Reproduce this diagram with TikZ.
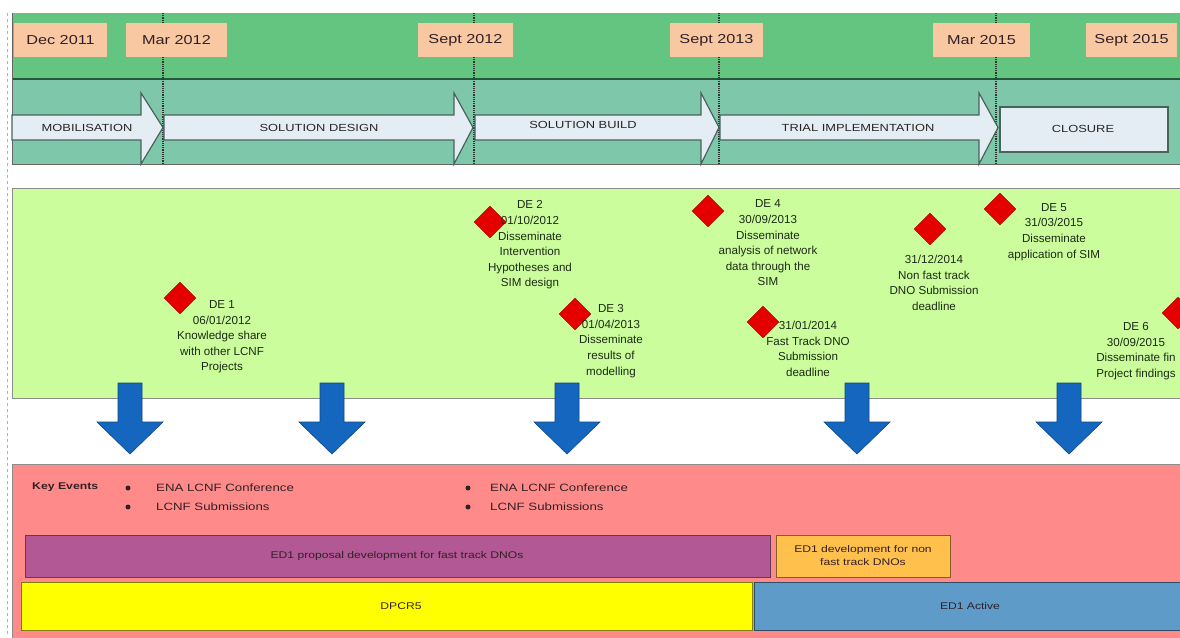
\documentclass[tikz,border=0pt]{standalone}
\usepackage{fontspec}
\setmainfont{Liberation Sans}
\newfontfamily\widefont{Liberation Sans}[FakeStretch=1.25]
\usetikzlibrary{shapes.geometric}
\definecolor{topgreen}{RGB}{100,197,128}
\definecolor{tealband}{RGB}{126,199,170}
\definecolor{darkline}{RGB}{40,85,60}
\definecolor{peach}{RGB}{248,200,162}
\definecolor{arrowfill}{RGB}{228,236,244}
\definecolor{arrowedge}{RGB}{70,100,90}
\definecolor{panelgreen}{RGB}{204,253,156}
\definecolor{panelpink}{RGB}{255,138,138}
\definecolor{barpurple}{RGB}{178,88,148}
\definecolor{barorange}{RGB}{255,192,76}
\definecolor{baryellow}{RGB}{255,255,0}
\definecolor{barblue}{RGB}{94,155,200}
\definecolor{arrowblue}{RGB}{20,102,190}
\definecolor{diamondred}{RGB}{228,0,0}
\definecolor{greentext}{RGB}{28,42,22}
\definecolor{darktext}{RGB}{50,32,38}
\tikzset{
  datebox/.style={fill=peach, draw=none, minimum height=34pt, inner sep=0pt,
    font=\widefont\fontsize{13}{15}\selectfont, text=darktext},
  phasearrow/.style={fill=arrowfill, draw=arrowedge, line width=1.2pt},
  phasetext/.style={font=\widefont\fontsize{10.3}{12}\selectfont, text=black!85},
  milestone/.style={diamond, fill=diamondred, draw=diamondred!70!black, line width=0.4pt,
    minimum width=32pt, minimum height=32pt, inner sep=0pt},
  mstext/.style={align=center, font=\fontsize{11.6}{15.6}\selectfont, text=greentext, inner sep=0pt},
  downarrow/.style={fill=arrowblue, draw=arrowblue!70!black, line width=0.6pt},
  bartext/.style={font=\widefont\fontsize{9.7}{13}\selectfont, text=darktext, align=center},
  keytext/.style={font=\widefont\fontsize{10.6}{17}\selectfont, text=darktext, anchor=west, inner sep=0pt},
  keybullet/.style={circle, fill=darktext, draw=none, inner sep=0pt, minimum size=5pt},
  milestoneline/.style={densely dotted, line width=1.2pt, draw=black!80},
}
\begin{document}
\begin{tikzpicture}[x=1pt,y=-1pt]
\useasboundingbox (0,0) rectangle (1180,637);
\clip (0,0) rectangle (1180,637);
\fill[white] (0,0) rectangle (1180,637);
% left edge line
\draw[gray!60, dashed, line width=0.8pt] (7,13) -- (7,637);
% top bands
\fill[topgreen] (12,13) rectangle (1185,79);
\fill[tealband] (12,79) rectangle (1185,164);
\draw[darkline, line width=2pt] (12,79) -- (1185,79);
\draw[black!60, line width=1pt] (12,13) -- (12,164) -- (1185,164);
% milestone lines
\foreach \x in {163,474,719,996} \draw[milestoneline] (\x,13) -- (\x,164);
% date labels
\node[datebox, minimum width=93pt] (d1) at (60.5,40) {Dec 2011};
\node[datebox, minimum width=101pt] (d2) at (176.5,40) {Mar 2012};
\node[datebox, minimum width=95pt] (d3) at (465.5,40) {Sept 2012};
\node[datebox, minimum width=93pt] (d4) at (716.5,40) {Sept 2013};
\node[datebox, minimum width=97pt] (d5) at (981.5,40) {Mar 2015};
\node[datebox, minimum width=91pt] (d6) at (1131.5,40) {Sept 2015};
% phase arrows
\draw[phasearrow] (12,115) -- (141,115) -- (141,93) -- (163,127.5) -- (141,164) -- (141,140) -- (12,140) -- cycle;
\draw[phasearrow] (164,115) -- (454,115) -- (454,93) -- (473,127.5) -- (454,164) -- (454,140) -- (164,140) -- cycle;
\draw[phasearrow] (475,115) -- (701,115) -- (701,93) -- (719,127.5) -- (701,164) -- (701,140) -- (475,140) -- cycle;
\draw[phasearrow] (720,115) -- (979,115) -- (979,93) -- (998,127.5) -- (979,164) -- (979,140) -- (720,140) -- cycle;
\draw[phasearrow] (1000,107) rectangle (1168,152);
\node[phasetext] (p1) at (87,128) {MOBILISATION};
\node[phasetext] (p2) at (319,128) {SOLUTION DESIGN};
\node[phasetext] (p3) at (583,125) {SOLUTION BUILD};
\node[phasetext] (p4) at (858,128) {TRIAL IMPLEMENTATION};
\node[phasetext] (p5) at (1083,129) {CLOSURE};
% green milestone panel
\draw[fill=panelgreen, draw=black!45, line width=0.8pt] (12,188) rectangle (1190,398);
% blue arrows
\foreach \cx in {130,332,567,857,1069}
  \draw[downarrow] ({\cx-12},383) -- ({\cx+12},383) -- ({\cx+12},422) -- ({\cx+33},422)
    -- (\cx,454) -- ({\cx-33},422) -- ({\cx-12},422) -- cycle;
% milestones
\node[milestone] (m1) at (180,298) {};
\node[milestone] (m2) at (490,222) {};
\node[milestone] (m3) at (575,314) {};
\node[milestone] (m4) at (708,211) {};
\node[milestone] (m5) at (763,322) {};
\node[milestone] (m6) at (930,229) {};
\node[milestone] (m7) at (1000,209) {};
\node[milestone] (m8) at (1178,313) {};
\node[mstext] (t1) at (222,337) {DE 1\\06/01/2012\\Knowledge share\\with other LCNF\\Projects};
\node[mstext] (t2) at (530,245) {DE 2\\01/10/2012\\Disseminate\\Intervention\\Hypotheses and\\SIM design};
\node[mstext] (t3) at (611,341) {DE 3\\01/04/2013\\Disseminate\\results of\\modelling};
\node[mstext] (t4) at (768,243) {DE 4\\30/09/2013\\Disseminate\\analysis of network\\data through the\\SIM};
\node[mstext] (t5) at (808,349) {31/01/2014\\Fast Track DNO\\Submission\\deadline};
\node[mstext] (t6) at (934,283) {31/12/2014\\Non fast track\\DNO Submission\\deadline};
\node[mstext] (t7) at (1054,232) {DE 5\\31/03/2015\\Disseminate\\application of SIM};
\node[mstext] (t8) at (1136,351) {DE 6\\30/09/2015\\Disseminate fin\\Project findings};
% pink key events panel
\draw[fill=panelpink, draw=black!45, line width=0.8pt] (12,464) rectangle (1190,645);
\node[font=\widefont\bfseries\fontsize{9.8}{12}\selectfont, text=darktext, anchor=west, inner sep=0pt] (ke) at (32,487) {Key Events};
\node[keybullet] (b1) at (128,488) {};
\node[keytext] (k1) at (156,488) {ENA LCNF Conference};
\node[keybullet] (b2) at (128,507) {};
\node[keytext] (k2) at (156,507) {LCNF Submissions};
\node[keybullet] (b3) at (468,488) {};
\node[keytext] (k3) at (490,488) {ENA LCNF Conference};
\node[keybullet] (b4) at (468,507) {};
\node[keytext] (k4) at (490,507) {LCNF Submissions};
% bars
\draw[fill=barpurple, draw=barpurple!60!black, line width=1pt] (25,535) rectangle (770,577);
\node[bartext] (e1) at (397,556) {ED1 proposal development for fast track DNOs};
\draw[fill=barorange, draw=barorange!50!black, line width=1pt] (776,535) rectangle (950,577);
\node[bartext] (e2) at (863,556) {ED1 development for non\\fast track DNOs};
\draw[fill=baryellow, draw=baryellow!50!black, line width=1pt] (21,582) rectangle (752,630);
\node[bartext] (e3) at (401,606) {DPCR5};
\draw[fill=barblue, draw=barblue!50!black, line width=1pt] (754,582) rectangle (1190,630);
\node[bartext] (e4) at (970,606) {ED1 Active};
\end{tikzpicture}
\end{document}
